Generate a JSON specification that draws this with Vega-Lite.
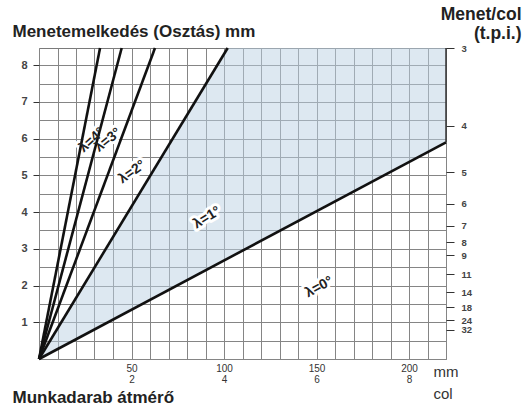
{
  "$schema": "https://vega.github.io/schema/vega-lite/v6.json",
  "width": 407,
  "height": 311,
  "autosize": {"type": "none"},
  "padding": {"left": 39, "top": 48, "right": 79, "bottom": 48},
  "background": "white",
  "config": {
    "view": {"stroke": "#7a7a7a", "strokeWidth": 1},
    "font": "Liberation Sans",
    "axis": {"labelFont": "Liberation Sans", "titleFont": "Liberation Sans"}
  },
  "datasets": {
    "band": [
      {"d": 0, "lo": 0, "hi": 0},
      {"d": 102, "lo": 2.735, "hi": 8.467},
      {"d": 220, "lo": 5.9, "hi": 8.467}
    ],
    "lines": [
      {"lam": "4", "d": 0, "p": 0}, {"lam": "4", "d": 33, "p": 8.467},
      {"lam": "3", "d": 0, "p": 0}, {"lam": "3", "d": 44.7, "p": 8.467},
      {"lam": "2", "d": 0, "p": 0}, {"lam": "2", "d": 62.7, "p": 8.467},
      {"lam": "1", "d": 0, "p": 0}, {"lam": "1", "d": 102, "p": 8.467},
      {"lam": "0", "d": 0, "p": 0}, {"lam": "0", "d": 220, "p": 5.9}
    ],
    "labels": [
      {"lam": "4", "d": 28.6, "p": 5.96, "text": "λ=4°"},
      {"lam": "3", "d": 37.3, "p": 5.96, "text": "λ=3°"},
      {"lam": "2", "d": 50.3, "p": 5.09, "text": "λ=2°"},
      {"lam": "1", "d": 90.8, "p": 3.85, "text": "λ=1°"},
      {"lam": "0", "d": 151.4, "p": 1.96, "text": "λ=0°"}
    ]
  },
  "layer": [
    {
      "data": {"name": "band"},
      "mark": {"type": "area", "color": "#bcd2e4", "opacity": 0.5},
      "encoding": {
        "x": {
          "field": "d", "type": "quantitative",
          "scale": {"domain": [0, 220], "nice": false, "zero": false},
          "axis": {
            "values": [0,10,20,30,40,50,60,70,80,90,100,110,120,130,140,150,160,170,180,190,200,210,220],
            "grid": true, "gridColor": "#858585", "gridWidth": 1,
            "ticks": false, "domain": false,
            "labelExpr": "indexof([50,100,150,200], datum.value) >= 0 ? [datum.label, '' + (datum.value/25)] : ''",
            "labelFontSize": 10, "labelColor": "#333", "labelPadding": 4,
            "labelBaseline": "top", "labelLineHeight": 11,
            "labelFlush": false, "labelOverlap": false,
            "title": "Munkadarab átmérő",
            "titleX": -27, "titleY": 38, "titleAlign": "left", "titleBaseline": "middle",
            "titleFontSize": 17, "titleFontWeight": "bold", "titleColor": "#222"
          }
        },
        "y": {
          "field": "hi", "type": "quantitative",
          "scale": {"domain": [0, 8.467], "nice": false, "zero": false},
          "axis": {
            "orient": "left",
            "values": [0,0.5,1,1.5,2,2.5,3,3.5,4,4.5,5,5.5,6,6.5,7,7.5,8],
            "grid": true, "gridColor": "#858585", "gridWidth": 1,
            "labels": false, "ticks": false, "domain": false, "title": null
          }
        },
        "y2": {"field": "lo"}
      }
    },
    {
      "data": {"name": "labels"},
      "mark": {"type": "text", "fontSize": 14, "fontWeight": "bold", "stroke": "white", "strokeWidth": 6, "strokeJoin": "round", "fill": "white"},
      "encoding": {
        "x": {"field": "d", "type": "quantitative", "axis": null},
        "y": {"field": "p", "type": "quantitative", "axis": null},
        "text": {"field": "text"},
        "angle": {"field": "lam", "type": "nominal", "scale": {"domain": ["0","1","2","3","4"], "range": [332, 318, 298, 288, 286]}, "legend": null}
      }
    },
    {
      "data": {"name": "lines"},
      "mark": {"type": "line", "color": "#111", "strokeWidth": 2.6},
      "encoding": {
        "x": {"field": "d", "type": "quantitative", "axis": null},
        "y": {
          "field": "p", "type": "quantitative",
          "axis": {
            "orient": "left",
            "values": [1,2,3,4,5,6,7,8],
            "grid": false, "domain": false,
            "ticks": true, "tickSize": 6, "tickColor": "#333", "tickWidth": 1,
            "labelFontSize": 11, "labelFontWeight": "bold", "labelColor": "#444", "labelPadding": 6,
            "title": "Menetemelkedés (Osztás) mm",
            "titleAngle": 0, "titleAlign": "left", "titleBaseline": "alphabetic",
            "titleX": -27, "titleY": -12,
            "titleFontSize": 17, "titleFontWeight": "bold", "titleColor": "#222"
          }
        },
        "detail": {"field": "lam"}
      }
    },
    {
      "data": {"name": "labels"},
      "mark": {"type": "text", "fontSize": 14, "fontWeight": "bold", "fill": "#222"},
      "encoding": {
        "x": {"field": "d", "type": "quantitative", "axis": null},
        "y": {"field": "p", "type": "quantitative", "axis": null},
        "text": {"field": "text"},
        "angle": {"field": "lam", "type": "nominal", "scale": {"domain": ["0","1","2","3","4"], "range": [332, 318, 298, 288, 286]}, "legend": null}
      }
    },
    {
      "data": {"name": "band"},
      "transform": [{"filter": "datum.d == 220"}],
      "mark": {"type": "rule", "color": "#333", "strokeWidth": 1.5},
      "encoding": {
        "x": {
          "field": "d", "type": "quantitative",
          "axis": {
            "orient": "top", "labels": false, "ticks": false, "domain": false, "grid": false,
            "title": ["mm", "col"], "titleX": 394, "titleY": 328, "titleAngle": 0,
            "titleAlign": "left", "titleBaseline": "alphabetic",
            "titleFontSize": 15, "titleFontWeight": "normal", "titleColor": "#333", "titleLineHeight": 22
          }
        },
        "y": {
          "field": "lo", "type": "quantitative",
          "axis": {
            "orient": "right",
            "values": [8.4667, 6.35, 5.08, 4.2333, 3.6286, 3.175, 2.8222, 2.3091, 1.8143, 1.4111, 1.0583, 0.79375],
            "labelExpr": "format(round(25.4/datum.value), 'd')",
            "grid": false, "domain": false,
            "ticks": true, "tickSize": 8, "tickColor": "#333", "tickWidth": 1,
            "labelFontSize": 9.5, "labelFontWeight": "bold", "labelColor": "#444", "labelPadding": 7,
            "labelOverlap": false, "labelFlush": false, "labelBound": false,
            "title": ["Menet/col", "(t.p.i.)"],
            "titleAngle": 0, "titleAlign": "right", "titleBaseline": "top",
            "titleX": 75, "titleY": -43, "titleLineHeight": 19,
            "titleFontSize": 17.5, "titleFontWeight": "bold", "titleColor": "#222"
          }
        },
        "y2": {"field": "hi"}
      }
    }
  ],
  "resolve": {"axis": {"y": "independent", "x": "independent"}}
}
